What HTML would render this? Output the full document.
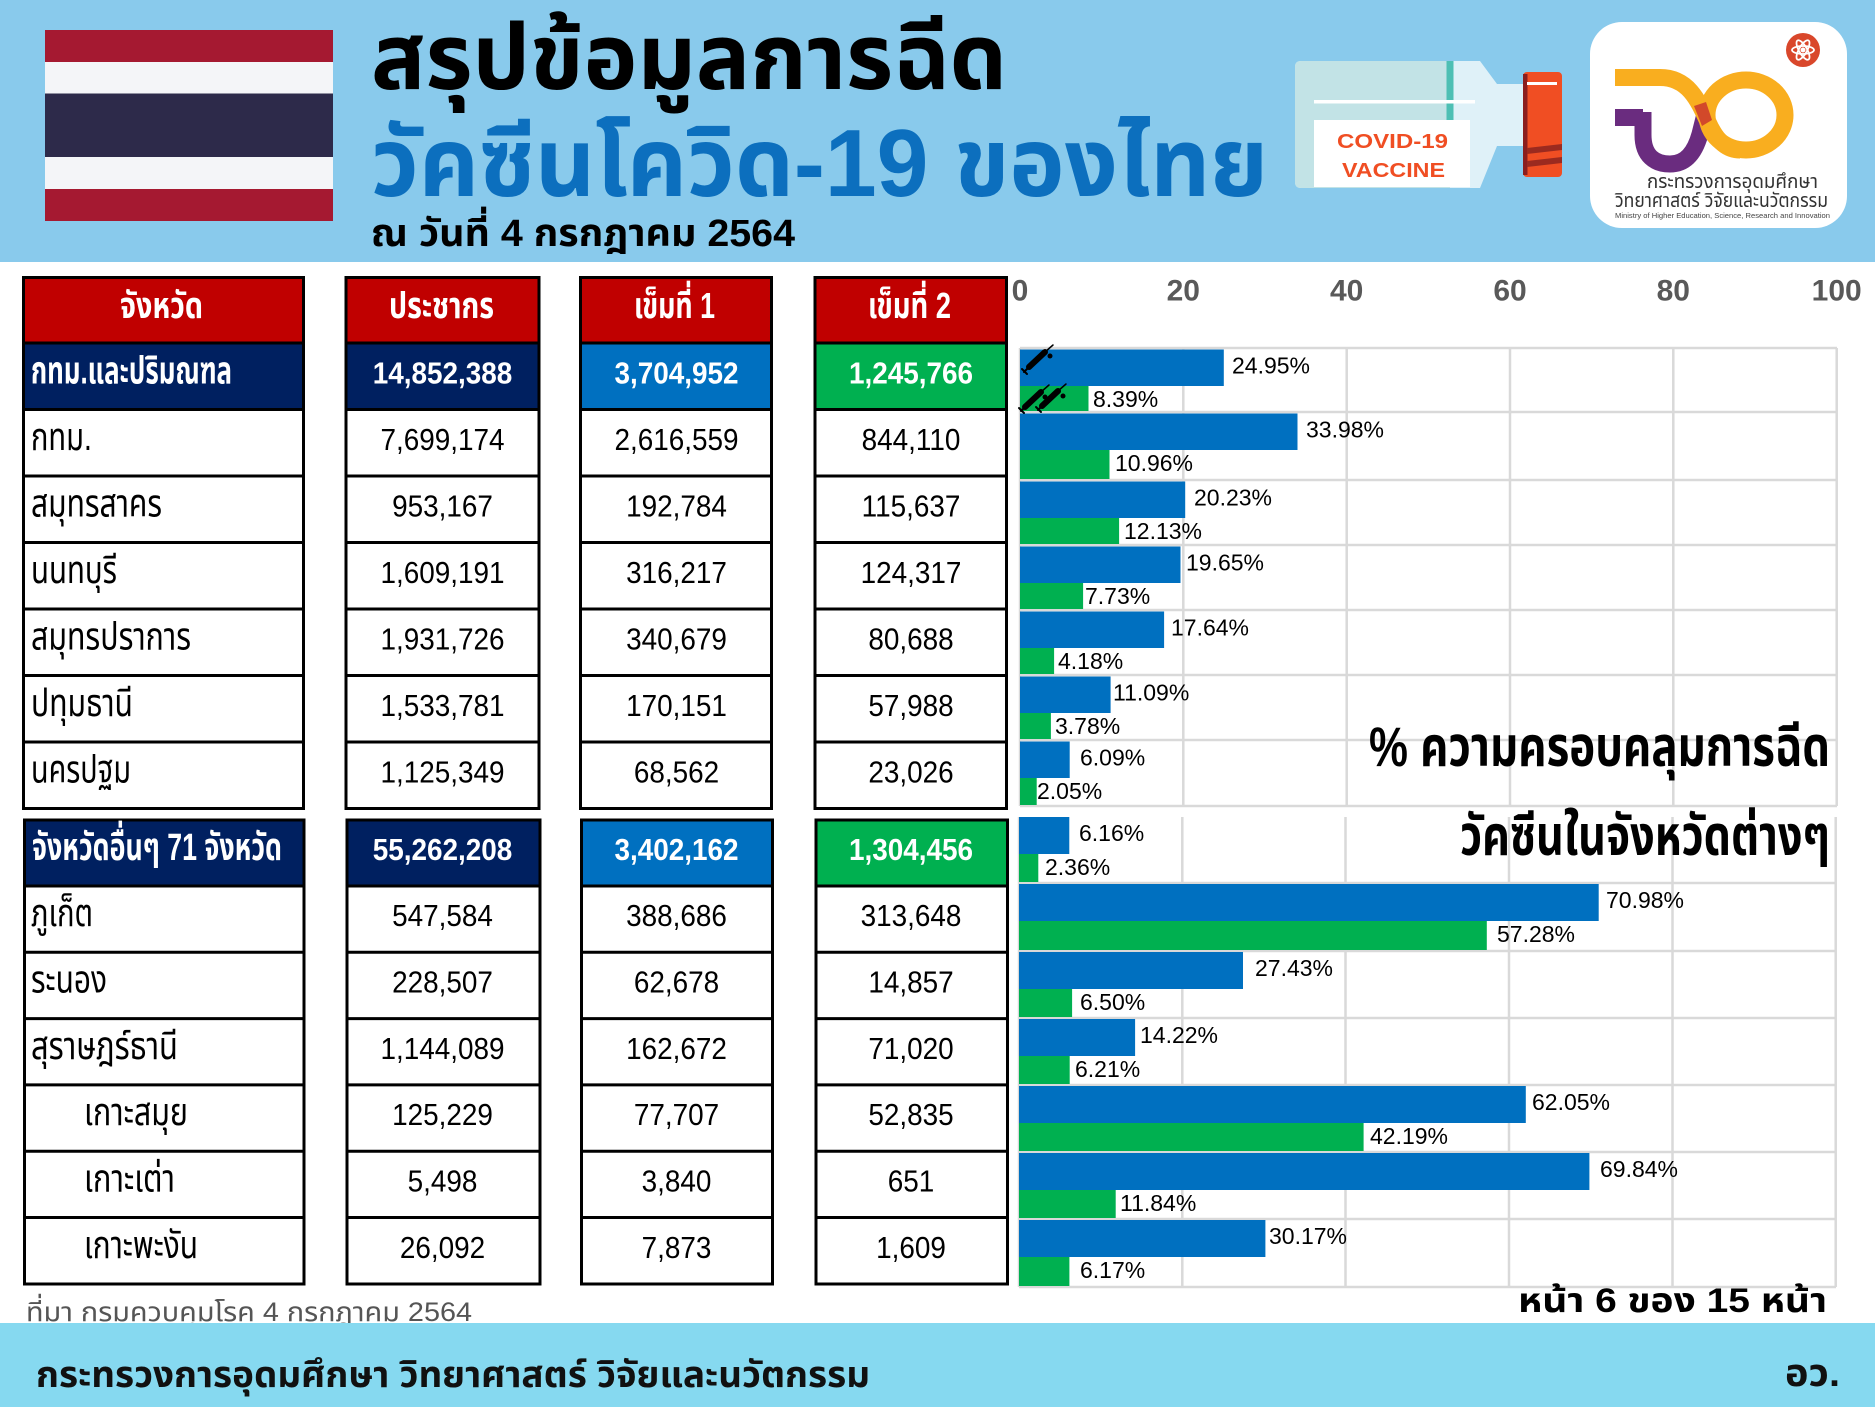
<!DOCTYPE html>
<html>
<head>
<meta charset="utf-8">
<style>
html,body{margin:0;padding:0;background:#fff;}
svg{display:block;}
text{font-family:"Liberation Sans","Noto Sans Thai","Noto Sans Thai UI","Noto Looped Thai","Loma","Garuda","Umpush","Waree","Kinnari","Norasi","Sarabun","Tlwg Typo","DejaVu Sans",sans-serif;}
.b{font-weight:bold;}
.w{fill:#fff;}
.num{font-size:31px;text-anchor:middle;}
.th{font-size:38px;}
.lbl{font-size:23px;fill:#000;}
.tick{font-size:30px;font-weight:bold;fill:#595959;text-anchor:middle;}
.grid{stroke:#d9d9d9;stroke-width:2.5;fill:none;}
.bl{fill:#0070c0;}
.gr{fill:#00b050;}
</style>
</head>
<body>
<svg width="1875" height="1407" viewBox="0 0 1875 1407" xmlns="http://www.w3.org/2000/svg">
<!-- header band -->
<rect x="0" y="0" width="1875" height="262" fill="#89caec"/>
<!-- flag -->
<rect x="45" y="30" width="288" height="32" fill="#a51931"/>
<rect x="45" y="62" width="288" height="31.5" fill="#f4f5f8"/>
<rect x="45" y="93.5" width="288" height="63.5" fill="#2d2a4a"/>
<rect x="45" y="157" width="288" height="32" fill="#f4f5f8"/>
<rect x="45" y="189" width="288" height="32" fill="#a51931"/>
<!-- titles -->
<text x="371" y="89" font-size="92" class="b" fill="#000" textLength="636" lengthAdjust="spacingAndGlyphs">สรุปข้อมูลการฉีด</text>
<text x="371" y="196" font-size="96" class="b" fill="#0c6fbe" textLength="897" lengthAdjust="spacingAndGlyphs">วัคซีนโควิด-19 ของไทย</text>
<text x="371" y="246" font-size="38" class="b" fill="#000" textLength="424" lengthAdjust="spacingAndGlyphs">ณ วันที่ 4 กรกฎาคม 2564</text>

<!-- vaccine bottle -->
<path d="M1301,61 H1480 L1497,84 H1523 V146 H1497 L1480,188 H1301 Q1295,188 1295,182 V67 Q1295,61 1301,61 Z" fill="#dff1f8"/>
<path d="M1301,61 H1450 V188 H1301 Q1295,188 1295,182 V67 Q1295,61 1301,61 Z" fill="#c2e3e6"/>
<rect x="1446.5" y="61" width="7" height="59" fill="#4dbfb4"/>
<rect x="1314" y="100" width="161" height="3.5" fill="#ffffff"/>
<rect x="1314" y="120" width="156" height="67" fill="#ffffff"/>
<text x="1337" y="148" font-size="20" class="b" fill="#f04e23" textLength="111" lengthAdjust="spacingAndGlyphs">COVID-19</text>
<text x="1342" y="177" font-size="20" class="b" fill="#f04e23" textLength="103" lengthAdjust="spacingAndGlyphs">VACCINE</text>
<rect x="1523" y="72" width="39" height="105" rx="4" fill="#f04e23"/>
<rect x="1523" y="74" width="4.5" height="101" fill="#8b1e1e"/>
<rect x="1527" y="82" width="30" height="3" fill="#ffffff"/>
<path d="M1527,148 L1562,144 V150 L1527,154 Z" fill="#9b2a1f"/>
<path d="M1527,161 L1562,157 V163 L1527,167 Z" fill="#9b2a1f"/>

<!-- ministry logo -->
<rect x="1590" y="22" width="257" height="206" rx="32" fill="#ffffff"/>
<path d="M1643,117.5 H1615 M1643,112 V135 C1643,156 1655,164 1670,164 C1686,164 1695,152 1700,134 L1705,114" stroke="#6a2c7f" stroke-width="17" fill="none"/>
<path d="M1615,77.5 H1660 C1688,77.5 1698,100 1708,122 C1716,140 1726,150 1740,150" stroke="#f9ae1f" stroke-width="17" fill="none"/>
<ellipse cx="1746" cy="115" rx="39" ry="35" stroke="#f9ae1f" stroke-width="17" fill="none"/>
<path d="M1694,106 L1706,102 L1712,120 L1702,126 Z" fill="#d2492a"/>
<circle cx="1803" cy="50" r="17" fill="#d9472b"/>
<g stroke="#fff" stroke-width="1.8" fill="none">
<ellipse cx="1803" cy="50" rx="11" ry="4"/>
<ellipse cx="1803" cy="50" rx="11" ry="4" transform="rotate(60 1803 50)"/>
<ellipse cx="1803" cy="50" rx="11" ry="4" transform="rotate(120 1803 50)"/>
</g>
<circle cx="1803" cy="50" r="2.5" fill="#fff"/>
<text x="1647" y="188" font-size="20" fill="#333" textLength="171" lengthAdjust="spacingAndGlyphs">กระทรวงการอุดมศึกษา</text>
<text x="1615" y="207" font-size="20" fill="#333" textLength="213" lengthAdjust="spacingAndGlyphs">วิทยาศาสตร์ วิจัยและนวัตกรรม</text>
<text x="1615" y="218" font-size="7.5" fill="#444" textLength="215" lengthAdjust="spacingAndGlyphs">Ministry of Higher Education, Science, Research and Innovation</text>

<!-- TABLE fills -->
<rect x="23.5" y="277.5" width="280" height="65.5" fill="#c00000"/>
<rect x="346" y="277.5" width="193" height="65.5" fill="#c00000"/>
<rect x="580.5" y="277.5" width="191" height="65.5" fill="#c00000"/>
<rect x="815" y="277.5" width="191.5" height="65.5" fill="#c00000"/>
<rect x="23.5" y="343" width="280" height="66.5" fill="#002060"/>
<rect x="346" y="343" width="193" height="66.5" fill="#002060"/>
<rect x="580.5" y="343" width="191" height="66.5" fill="#0070c0"/>
<rect x="815" y="343" width="191.5" height="66.5" fill="#00b050"/>
<rect x="24.5" y="820" width="279.5" height="66" fill="#002060"/>
<rect x="347" y="820" width="193" height="66" fill="#002060"/>
<rect x="581.5" y="820" width="191" height="66" fill="#0070c0"/>
<rect x="816" y="820" width="191.5" height="66" fill="#00b050"/>

<!-- TABLE borders -->
<g stroke="#000" stroke-width="3" fill="none">
<rect x="23.5" y="277.5" width="280" height="531"/>
<rect x="346" y="277.5" width="193" height="531"/>
<rect x="580.5" y="277.5" width="191" height="531"/>
<rect x="815" y="277.5" width="191.5" height="531"/>
<path d="M23.5,343H303.5M23.5,409.5H303.5M23.5,476H303.5M23.5,542.5H303.5M23.5,609H303.5M23.5,675.5H303.5M23.5,742H303.5"/>
<path d="M346,343H539M346,409.5H539M346,476H539M346,542.5H539M346,609H539M346,675.5H539M346,742H539"/>
<path d="M580.5,343H771.5M580.5,409.5H771.5M580.5,476H771.5M580.5,542.5H771.5M580.5,609H771.5M580.5,675.5H771.5M580.5,742H771.5"/>
<path d="M815,343H1006.5M815,409.5H1006.5M815,476H1006.5M815,542.5H1006.5M815,609H1006.5M815,675.5H1006.5M815,742H1006.5"/>
<rect x="24.5" y="820" width="279.5" height="464"/>
<rect x="347" y="820" width="193" height="464"/>
<rect x="581.5" y="820" width="191" height="464"/>
<rect x="816" y="820" width="191.5" height="464"/>
<path d="M24.5,886H304M24.5,952.3H304M24.5,1018.6H304M24.5,1084.9H304M24.5,1151.2H304M24.5,1217.5H304"/>
<path d="M347,886H540M347,952.3H540M347,1018.6H540M347,1084.9H540M347,1151.2H540M347,1217.5H540"/>
<path d="M581.5,886H772.5M581.5,952.3H772.5M581.5,1018.6H772.5M581.5,1084.9H772.5M581.5,1151.2H772.5M581.5,1217.5H772.5"/>
<path d="M816,886H1007.5M816,952.3H1007.5M816,1018.6H1007.5M816,1084.9H1007.5M816,1151.2H1007.5M816,1217.5H1007.5"/>
</g>

<!-- TABLE header text -->
<text x="120" y="318" font-size="36" class="b w" textLength="83" lengthAdjust="spacingAndGlyphs">จังหวัด</text>
<text x="389" y="318" font-size="36" class="b w" textLength="105" lengthAdjust="spacingAndGlyphs">ประชากร</text>
<text x="634" y="318" font-size="36" class="b w" textLength="81" lengthAdjust="spacingAndGlyphs">เข็มที่ 1</text>
<text x="868" y="318" font-size="36" class="b w" textLength="83" lengthAdjust="spacingAndGlyphs">เข็มที่ 2</text>

<!-- TABLE col1 text -->
<text x="31" y="383.3" class="th b w" textLength="201" lengthAdjust="spacingAndGlyphs">กทม.และปริมณฑล</text>
<text x="31" y="449.8" class="th" textLength="61" lengthAdjust="spacingAndGlyphs">กทม.</text>
<text x="31" y="516.3" class="th" textLength="131" lengthAdjust="spacingAndGlyphs">สมุทรสาคร</text>
<text x="31" y="582.8" class="th" textLength="86" lengthAdjust="spacingAndGlyphs">นนทบุรี</text>
<text x="31" y="649.3" class="th" textLength="160" lengthAdjust="spacingAndGlyphs">สมุทรปราการ</text>
<text x="31" y="715.8" class="th" textLength="102" lengthAdjust="spacingAndGlyphs">ปทุมธานี</text>
<text x="31" y="782.3" class="th" textLength="100" lengthAdjust="spacingAndGlyphs">นครปฐม</text>
<text x="32" y="860" class="th b w" textLength="250" lengthAdjust="spacingAndGlyphs">จังหวัดอื่นๆ 71 จังหวัด</text>
<text x="31" y="926.2" class="th" textLength="62" lengthAdjust="spacingAndGlyphs">ภูเก็ต</text>
<text x="31" y="992.5" class="th" textLength="76" lengthAdjust="spacingAndGlyphs">ระนอง</text>
<text x="31" y="1058.8" class="th" textLength="147" lengthAdjust="spacingAndGlyphs">สุราษฎร์ธานี</text>
<text x="84" y="1125" class="th" textLength="104" lengthAdjust="spacingAndGlyphs">เกาะสมุย</text>
<text x="84" y="1191.4" class="th" textLength="91" lengthAdjust="spacingAndGlyphs">เกาะเต่า</text>
<text x="84" y="1257.8" class="th" textLength="114" lengthAdjust="spacingAndGlyphs">เกาะพะงัน</text>

<!-- TABLE numbers col2 -->
<g transform="translate(442.5,0) scale(0.9,1)">
<text x="0" y="383.3" class="num b w">14,852,388</text>
<text x="0" y="449.8" class="num">7,699,174</text>
<text x="0" y="516.3" class="num">953,167</text>
<text x="0" y="582.8" class="num">1,609,191</text>
<text x="0" y="649.3" class="num">1,931,726</text>
<text x="0" y="715.8" class="num">1,533,781</text>
<text x="0" y="782.3" class="num">1,125,349</text>
<text x="0" y="860" class="num b w">55,262,208</text>
<text x="0" y="926.2" class="num">547,584</text>
<text x="0" y="992.5" class="num">228,507</text>
<text x="0" y="1058.8" class="num">1,144,089</text>
<text x="0" y="1125" class="num">125,229</text>
<text x="0" y="1191.4" class="num">5,498</text>
<text x="0" y="1257.8" class="num">26,092</text>
</g>
<!-- col3 -->
<g transform="translate(676.5,0) scale(0.9,1)">
<text x="0" y="383.3" class="num b w">3,704,952</text>
<text x="0" y="449.8" class="num">2,616,559</text>
<text x="0" y="516.3" class="num">192,784</text>
<text x="0" y="582.8" class="num">316,217</text>
<text x="0" y="649.3" class="num">340,679</text>
<text x="0" y="715.8" class="num">170,151</text>
<text x="0" y="782.3" class="num">68,562</text>
<text x="0" y="860" class="num b w">3,402,162</text>
<text x="0" y="926.2" class="num">388,686</text>
<text x="0" y="992.5" class="num">62,678</text>
<text x="0" y="1058.8" class="num">162,672</text>
<text x="0" y="1125" class="num">77,707</text>
<text x="0" y="1191.4" class="num">3,840</text>
<text x="0" y="1257.8" class="num">7,873</text>
</g>
<!-- col4 -->
<g transform="translate(911,0) scale(0.9,1)">
<text x="0" y="383.3" class="num b w">1,245,766</text>
<text x="0" y="449.8" class="num">844,110</text>
<text x="0" y="516.3" class="num">115,637</text>
<text x="0" y="582.8" class="num">124,317</text>
<text x="0" y="649.3" class="num">80,688</text>
<text x="0" y="715.8" class="num">57,988</text>
<text x="0" y="782.3" class="num">23,026</text>
<text x="0" y="860" class="num b w">1,304,456</text>
<text x="0" y="926.2" class="num">313,648</text>
<text x="0" y="992.5" class="num">14,857</text>
<text x="0" y="1058.8" class="num">71,020</text>
<text x="0" y="1125" class="num">52,835</text>
<text x="0" y="1191.4" class="num">651</text>
<text x="0" y="1257.8" class="num">1,609</text>
</g>

<!-- CHART ticks -->
<text x="1020" y="300.7" class="tick">0</text>
<text x="1183.3" y="300.7" class="tick">20</text>
<text x="1346.7" y="300.7" class="tick">40</text>
<text x="1510" y="300.7" class="tick">60</text>
<text x="1673.3" y="300.7" class="tick">80</text>
<text x="1836.7" y="300.7" class="tick">100</text>

<!-- CHART grid panel 1 -->
<path class="grid" d="M1020,348H1837M1020,412H1837M1020,480H1837M1020,545H1837M1020,610H1837M1020,675H1837M1020,740H1837M1020,806H1837"/>
<path class="grid" d="M1020,348V806M1183.3,348V806M1346.7,348V806M1510,348V806M1673.3,348V806M1836.7,348V806"/>
<!-- CHART grid panel 2 -->
<path class="grid" d="M1019,883H1836M1019,951H1836M1019,1018H1836M1019,1085H1836M1019,1152H1836M1019,1219H1836M1019,1287H1836"/>
<path class="grid" d="M1019,817V1287M1182.3,817V1287M1345.5,817V1287M1509,817V1287M1672.5,817V1287M1835.7,817V1287"/>

<!-- CHART bars panel 1 -->
<rect class="bl" x="1020" y="349.5" width="203.8" height="36.5"/><rect class="gr" x="1020" y="386" width="68.5" height="25"/>
<rect class="bl" x="1020" y="413.5" width="277.5" height="36.5"/><rect class="gr" x="1020" y="450" width="89.5" height="29"/>
<rect class="bl" x="1020" y="481.5" width="165.2" height="36.5"/><rect class="gr" x="1020" y="518" width="99.1" height="26"/>
<rect class="bl" x="1020" y="546.5" width="160.5" height="36.5"/><rect class="gr" x="1020" y="583" width="63.1" height="26"/>
<rect class="bl" x="1020" y="611.5" width="144.1" height="36.5"/><rect class="gr" x="1020" y="648" width="34.1" height="26"/>
<rect class="bl" x="1020" y="676.5" width="90.6" height="36.5"/><rect class="gr" x="1020" y="713" width="30.9" height="26"/>
<rect class="bl" x="1020" y="741.5" width="49.7" height="36.5"/><rect class="gr" x="1020" y="778" width="16.7" height="27"/>
<!-- CHART bars panel 2 -->
<rect class="bl" x="1019" y="817" width="50.3" height="37"/><rect class="gr" x="1019" y="854" width="19.3" height="28"/>
<rect class="bl" x="1019" y="884" width="579.7" height="37"/><rect class="gr" x="1019" y="921" width="467.8" height="29"/>
<rect class="bl" x="1019" y="952" width="224.0" height="37"/><rect class="gr" x="1019" y="989" width="53.1" height="28"/>
<rect class="bl" x="1019" y="1019" width="116.1" height="37"/><rect class="gr" x="1019" y="1056" width="50.7" height="28"/>
<rect class="bl" x="1019" y="1086" width="506.8" height="37"/><rect class="gr" x="1019" y="1123" width="344.6" height="28"/>
<rect class="bl" x="1019" y="1153" width="570.4" height="37"/><rect class="gr" x="1019" y="1190" width="96.7" height="28"/>
<rect class="bl" x="1019" y="1220" width="246.4" height="37"/><rect class="gr" x="1019" y="1257" width="50.4" height="29"/>

<!-- syringe icons -->
<g stroke="#000" fill="none" stroke-linecap="round">
<path d="M1029,367 L1045,352" stroke-width="6"/>
<path d="M1024,372 L1029,367 M1022,369 L1027,374" stroke-width="2"/>
<path d="M1045,352 L1053,345" stroke-width="1.5"/>
<path d="M1025,407 L1041,392" stroke-width="6"/>
<path d="M1021,411 L1025,407 M1019,408 L1024,413" stroke-width="2"/>
<path d="M1041,392 L1049,385" stroke-width="1.5"/>
<path d="M1042,406 L1058,391" stroke-width="6"/>
<path d="M1038,410 L1042,406 M1036,407 L1041,412" stroke-width="2"/>
<path d="M1058,391 L1066,384" stroke-width="1.5"/>
</g>
<circle cx="1050" cy="356" r="2.5" fill="#000"/>
<circle cx="1045" cy="397" r="2.5" fill="#000"/>
<circle cx="1063" cy="396" r="2.5" fill="#000"/>

<!-- CHART value labels -->
<text class="lbl" x="1232" y="373.5">24.95%</text><text class="lbl" x="1093" y="407">8.39%</text>
<text class="lbl" x="1306" y="437.5">33.98%</text><text class="lbl" x="1115" y="471">10.96%</text>
<text class="lbl" x="1194" y="505.5">20.23%</text><text class="lbl" x="1124" y="539">12.13%</text>
<text class="lbl" x="1186" y="570.5">19.65%</text><text class="lbl" x="1085" y="604">7.73%</text>
<text class="lbl" x="1171" y="635.5">17.64%</text><text class="lbl" x="1058" y="669">4.18%</text>
<text class="lbl" x="1113" y="700.5">11.09%</text><text class="lbl" x="1055" y="734">3.78%</text>
<text class="lbl" x="1080" y="765.5">6.09%</text><text class="lbl" x="1037" y="799">2.05%</text>
<text class="lbl" x="1079" y="841">6.16%</text><text class="lbl" x="1045" y="875">2.36%</text>
<text class="lbl" x="1606" y="908">70.98%</text><text class="lbl" x="1497" y="942">57.28%</text>
<text class="lbl" x="1255" y="976">27.43%</text><text class="lbl" x="1080" y="1010">6.50%</text>
<text class="lbl" x="1140" y="1043">14.22%</text><text class="lbl" x="1075" y="1077">6.21%</text>
<text class="lbl" x="1532" y="1110">62.05%</text><text class="lbl" x="1370" y="1144">42.19%</text>
<text class="lbl" x="1600" y="1177">69.84%</text><text class="lbl" x="1120" y="1211">11.84%</text>
<text class="lbl" x="1269" y="1244">30.17%</text><text class="lbl" x="1080" y="1278">6.17%</text>

<!-- chart title -->
<text x="1369" y="766" font-size="56" class="b" fill="#000" textLength="461" lengthAdjust="spacingAndGlyphs">% ความครอบคลุมการฉีด</text>
<text x="1460" y="855" font-size="56" class="b" fill="#000" textLength="370" lengthAdjust="spacingAndGlyphs">วัคซีนในจังหวัดต่างๆ</text>

<!-- source & page -->
<text x="26" y="1321" font-size="27" fill="#555" textLength="446" lengthAdjust="spacingAndGlyphs">ที่มา กรมควบคุมโรค 4 กรกฎาคม 2564</text>
<text x="1518" y="1312" font-size="34" class="b" fill="#000" textLength="309" lengthAdjust="spacingAndGlyphs">หน้า 6 ของ 15 หน้า</text>

<!-- footer -->
<rect x="0" y="1323" width="1875" height="84" fill="#86d9f0"/>
<text x="36" y="1387" font-size="36" class="b" fill="#111" textLength="834" lengthAdjust="spacingAndGlyphs">กระทรวงการอุดมศึกษา วิทยาศาสตร์ วิจัยและนวัตกรรม</text>
<text x="1785" y="1386" font-size="38" class="b" fill="#111" textLength="55" lengthAdjust="spacingAndGlyphs">อว.</text>
</svg>
</body>
</html>
